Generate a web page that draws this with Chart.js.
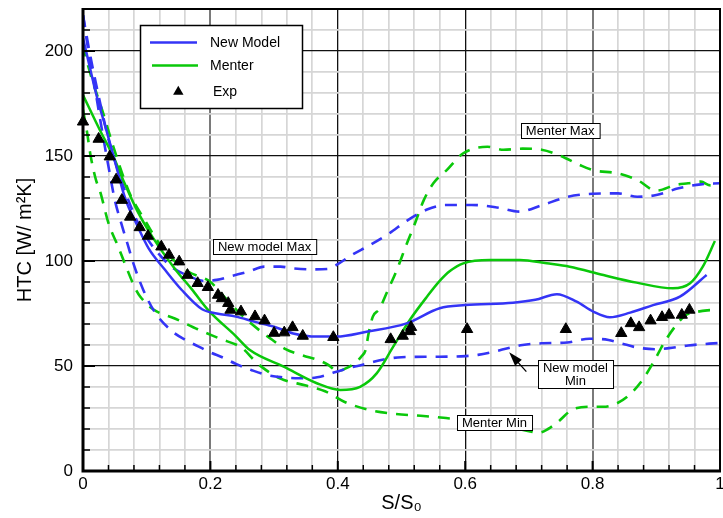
<!DOCTYPE html>
<html>
<head>
<meta charset="utf-8">
<title>HTC along S/S0</title>
<script src="https://cdn.jsdelivr.net/npm/chart.js@4.4.1/dist/chart.umd.min.js"></script>
<style>
  html, body { margin: 0; padding: 0; background: #fff; }
  #wrap { width: 723px; height: 518px; }
</style>
</head>
<body>
<div id="wrap"><canvas id="htcChart" width="723" height="518"></canvas></div>
<script>
// heat transfer coefficient along the surface, S/S0 vs HTC
const newModelS = [0, 0.005, 0.022, 0.037, 0.051, 0.066, 0.085, 0.103, 0.129, 0.155, 0.187, 0.21, 0.24, 0.27, 0.3, 0.33, 0.367, 0.398, 0.445, 0.508, 0.56, 0.6, 0.675, 0.71, 0.744, 0.775, 0.801, 0.827, 0.859, 0.895, 0.937, 0.979];
const newModelHtc = [206, 199.7, 178, 162, 146.5, 130, 117, 106, 95.7, 86.2, 77, 75, 73.5, 71, 68.7, 65.5, 64, 64, 66.3, 70.3, 77.5, 79, 80.1, 81.5, 84.2, 80.6, 75.9, 73.2, 75.4, 79, 83, 93.3];

const menterS = [0, 0.027, 0.048, 0.063, 0.085, 0.11, 0.145, 0.171, 0.197, 0.239, 0.262, 0.315, 0.367, 0.404, 0.435, 0.461, 0.487, 0.513, 0.54, 0.56, 0.576, 0.597, 0.639, 0.686, 0.728, 0.764, 0.817, 0.869, 0.926, 0.953, 0.973, 0.992];
const menterHtc = [179, 162, 149.5, 138.6, 124, 111, 96, 86.5, 76.5, 64.5, 57.6, 49.7, 41.8, 38.6, 40.1, 46.5, 59.2, 71.9, 83, 90.5, 95.2, 98.9, 100.5, 100.5, 98.9, 97.3, 93.3, 89.7, 87, 89.4, 97.3, 109.5];

const newMaxS = [0, 0.01, 0.02, 0.03, 0.04, 0.055, 0.07, 0.085, 0.1, 0.12, 0.14, 0.165, 0.19, 0.21, 0.235, 0.26, 0.285, 0.31, 0.33, 0.36, 0.385, 0.4, 0.42, 0.45, 0.48, 0.51, 0.54, 0.57, 0.61, 0.65, 0.685, 0.72, 0.76, 0.8, 0.84, 0.87, 0.9, 0.935, 0.97, 1];
const newMaxHtc = [217, 200, 185, 171, 158, 143, 130, 119, 111, 103, 97, 93, 90.5, 91, 93, 95, 97.3, 97.3, 96.5, 96, 96.2, 98.5, 102.5, 107.5, 113, 119.5, 124.5, 126.7, 126.7, 125.5, 123.5, 126.5, 130.5, 132, 132.2, 130.6, 131.4, 134.6, 136.5, 137];

const newMinS = [0, 0.01, 0.02, 0.03, 0.04, 0.05, 0.06, 0.07, 0.08, 0.095, 0.112, 0.138, 0.16, 0.18, 0.2, 0.22, 0.24, 0.265, 0.285, 0.31, 0.34, 0.36, 0.38, 0.395, 0.42, 0.45, 0.47, 0.5, 0.55, 0.6, 0.62, 0.645, 0.67, 0.69, 0.72, 0.76, 0.795, 0.825, 0.845, 0.87, 0.9, 0.92, 0.95, 1];
const newMinHtc = [217, 197, 180, 162, 145, 129, 118, 108, 98, 86, 76, 67, 62.5, 59.5, 56.5, 54, 51, 48, 46, 44.7, 44.2, 44.3, 45.5, 47, 49.2, 51.5, 53, 54.2, 54.4, 54.7, 55.3, 56.8, 58.7, 60, 60.8, 61.2, 63, 62.4, 60.8, 58.8, 58, 58.5, 59.8, 61];

const menterMaxS = [0, 0.008, 0.02, 0.03, 0.045, 0.06, 0.075, 0.097, 0.117, 0.142, 0.165, 0.2, 0.223, 0.25, 0.277, 0.297, 0.318, 0.345, 0.372, 0.385, 0.4, 0.41, 0.425, 0.437, 0.444, 0.448, 0.455, 0.465, 0.477, 0.493, 0.508, 0.52, 0.535, 0.55, 0.571, 0.597, 0.635, 0.66, 0.69, 0.72, 0.75, 0.78, 0.8, 0.84, 0.87, 0.9, 0.93, 0.95, 0.97, 0.985, 1];
const menterMaxHtc = [203, 193, 181, 172, 157, 143, 131, 119.5, 109.5, 100.5, 95, 90, 82.5, 74, 67, 62.5, 58, 55, 52.5, 50.5, 47.5, 48.5, 51, 54.5, 58, 65, 73.5, 77, 85, 96, 108, 117, 129, 137, 143.3, 151.3, 154.4, 153, 153.5, 153, 150, 145.7, 143.3, 141.7, 138.6, 133.5, 136.2, 137, 137.8, 136, 137];

const menterMinS = [0, 0.006, 0.012, 0.02, 0.027, 0.04, 0.055, 0.068, 0.082, 0.09, 0.11, 0.145, 0.18, 0.215, 0.25, 0.268, 0.28, 0.31, 0.35, 0.38, 0.41, 0.45, 0.49, 0.53, 0.57, 0.62, 0.67, 0.7, 0.715, 0.73, 0.746, 0.77, 0.8, 0.817, 0.838, 0.855, 0.875, 0.895, 0.912, 0.93, 0.945, 0.96, 0.98, 1];
const menterMinHtc = [172, 162, 150, 139, 133, 118, 107, 97, 87, 83, 77, 72.5, 67.5, 63, 58.5, 53, 49.7, 44, 40.7, 38, 33, 29, 27.2, 26.3, 25.2, 23.5, 21, 19, 18.2, 20, 23.5, 29.5, 30.6, 30.6, 32.2, 35.5, 42, 51.5, 61, 69, 74, 75.5, 76.5, 76.7];

const expS = [0.0, 0.0245, 0.042, 0.052, 0.061, 0.074, 0.089, 0.102, 0.123, 0.135, 0.151, 0.164, 0.18, 0.196, 0.212, 0.218, 0.228, 0.2315, 0.248, 0.27, 0.285, 0.3, 0.316, 0.329, 0.345, 0.393, 0.483, 0.502, 0.513, 0.515, 0.603, 0.758, 0.845, 0.86, 0.873, 0.891, 0.909, 0.92, 0.94, 0.952];
const expHtc = [166.3, 158.1, 149.7, 138.7, 129.0, 121.0, 116.0, 111.9, 106.8, 102.9, 99.7, 93.3, 89.4, 87.5, 83.8, 82.2, 79.9, 76.7, 75.9, 73.6, 71.6, 65.7, 65.9, 68.4, 64.3, 63.7, 62.7, 64.3, 66.5, 68.5, 67.5, 67.5, 65.6, 70.3, 68.4, 71.6, 73.2, 74.3, 74.3, 76.7];

const xTickLabels = ['0', '0.2', '0.4', '0.6', '0.8', '1'];
const yTickLabels = ['0', '50', '100', '150', '200'];

const BLUE = 'rgb(52,52,246)';
const GREEN = 'rgb(10,200,10)';
const FONT = '"Liberation Sans", Arial, sans-serif';
const TICK_FONT = 17;

function pts(xs, ys) {
  return xs.map((x, i) => ({ x: x, y: ys[i] }));
}

function isMajorX(v) { return Math.abs(v * 5 - Math.round(v * 5)) < 1e-6; }
function isMajorY(v) { return Math.abs(v / 50 - Math.round(v / 50)) < 1e-6; }

// no extra room for the edge tick labels, the plot fills the frame
function noScalePadding(scale) {
  scale.paddingLeft = 0;
  scale.paddingRight = 0;
  scale.paddingTop = 0;
  scale.paddingBottom = 0;
}

// text boxes placed in data units (center of box)
const notes = [
  { lines: ['New model Max'], s: 0.285, v: 107.1 },
  { lines: ['Menter Max'], s: 0.749, v: 162 },
  { lines: ['New model', 'Min'], s: 0.773, v: 46.3 },
  { lines: ['Menter Min'], s: 0.646, v: 22.9 }
];

const framePlugin = {
  id: 'frame',
  afterDatasetsDraw(chart) {
    const { ctx, chartArea: a, scales } = chart;
    ctx.save();
    ctx.strokeStyle = '#000';
    ctx.lineCap = 'butt';

    // inward tick marks on left and bottom
    scales.y.ticks.forEach(t => {
      const y = scales.y.getPixelForValue(t.value);
      const major = isMajorY(t.value);
      ctx.lineWidth = major ? 2 : 1.5;
      ctx.beginPath();
      ctx.moveTo(a.left, y);
      ctx.lineTo(a.left + (major ? 12 : 7), y);
      ctx.stroke();
    });
    scales.x.ticks.forEach(t => {
      const x = scales.x.getPixelForValue(t.value);
      const major = isMajorX(t.value);
      ctx.lineWidth = major ? 2 : 1.5;
      ctx.beginPath();
      ctx.moveTo(x, a.bottom);
      ctx.lineTo(x, a.bottom - (major ? 10 : 6));
      ctx.stroke();
    });

    // frame
    ctx.lineWidth = 2;
    ctx.beginPath();
    ctx.moveTo(a.left, a.top);
    ctx.lineTo(a.right, a.top);
    ctx.lineTo(a.right, a.bottom);
    ctx.stroke();
    ctx.lineWidth = 3;
    ctx.beginPath();
    ctx.moveTo(a.left, a.top - 1);
    ctx.lineTo(a.left, a.bottom);
    ctx.lineTo(a.right + 1, a.bottom);
    ctx.stroke();
    ctx.restore();
  },
  afterDraw(chart) {
    const { ctx, scales } = chart;
    ctx.save();

    // labelled boxes
    ctx.font = '13px ' + FONT;
    ctx.textAlign = 'center';
    ctx.textBaseline = 'middle';
    notes.forEach(n => {
      const cx = scales.x.getPixelForValue(n.s);
      const cy = scales.y.getPixelForValue(n.v);
      const w = Math.max(...n.lines.map(l => ctx.measureText(l).width)) + 10;
      const lh = 13;
      const h = n.lines.length * lh + 2;
      const x0 = Math.round(cx - w / 2) + 0.5;
      const y0 = Math.round(cy - h / 2) + 0.5;
      ctx.fillStyle = '#fff';
      ctx.fillRect(x0, y0, w, h);
      ctx.strokeStyle = '#000';
      ctx.lineWidth = 1;
      ctx.strokeRect(x0, y0, w, h);
      ctx.fillStyle = '#000';
      n.lines.forEach((l, i) => {
        ctx.fillText(l, cx, y0 + 1 + lh / 2 + i * lh + 0.5);
      });
    });

    // arrow to the lower blue dashed curve
    const ax0 = scales.x.getPixelForValue(0.696), ay0 = scales.y.getPixelForValue(47.3);
    const ax1 = scales.x.getPixelForValue(0.669), ay1 = scales.y.getPixelForValue(56.5);
    const ang = Math.atan2(ay1 - ay0, ax1 - ax0);
    ctx.strokeStyle = '#000';
    ctx.lineWidth = 1.3;
    ctx.beginPath();
    ctx.moveTo(ax0, ay0);
    ctx.lineTo(ax1 - Math.cos(ang) * 8, ay1 - Math.sin(ang) * 8);
    ctx.stroke();
    ctx.fillStyle = '#000';
    ctx.beginPath();
    ctx.moveTo(ax1, ay1);
    ctx.lineTo(ax1 - Math.cos(ang) * 14 - Math.sin(ang) * 4.5, ay1 - Math.sin(ang) * 14 + Math.cos(ang) * 4.5);
    ctx.lineTo(ax1 - Math.cos(ang) * 14 + Math.sin(ang) * 4.5, ay1 - Math.sin(ang) * 14 - Math.cos(ang) * 4.5);
    ctx.closePath();
    ctx.fill();

    // legend box
    ctx.fillStyle = '#fff';
    ctx.fillRect(140.5, 25.5, 162, 83);
    ctx.strokeStyle = '#000';
    ctx.lineWidth = 1.5;
    ctx.strokeRect(140.5, 25.5, 162, 83);
    ctx.lineWidth = 2.5;
    ctx.strokeStyle = BLUE;
    ctx.beginPath(); ctx.moveTo(150, 42.5); ctx.lineTo(197, 42.5); ctx.stroke();
    ctx.strokeStyle = GREEN;
    ctx.beginPath(); ctx.moveTo(152, 65.5); ctx.lineTo(198, 65.5); ctx.stroke();
    ctx.fillStyle = '#000';
    const tx = 178.3, ty = 91.7, r = 6;
    ctx.beginPath();
    ctx.moveTo(tx, ty - r);
    ctx.lineTo(tx + r * 0.866, ty + r * 0.5);
    ctx.lineTo(tx - r * 0.866, ty + r * 0.5);
    ctx.closePath();
    ctx.fill();
    ctx.font = '14px ' + FONT;
    ctx.textAlign = 'left';
    ctx.fillText(chart.data.datasets[0].label, 210, 43.5);
    ctx.fillText(chart.data.datasets[1].label, 210, 66.5);
    ctx.fillText(chart.data.datasets[2].label, 213, 92.5);
    ctx.restore();
  }
};

const lineBase = {
  pointRadius: 0,
  pointHoverRadius: 0,
  fill: false,
  cubicInterpolationMode: 'monotone',
  order: 1
};

new Chart(document.getElementById('htcChart'), {
  type: 'line',
  data: {
    datasets: [
      Object.assign({}, lineBase, { label: 'New Model', data: pts(newModelS, newModelHtc), borderColor: BLUE, borderWidth: 2.5 }),
      Object.assign({}, lineBase, { label: 'Menter', data: pts(menterS, menterHtc), borderColor: GREEN, borderWidth: 2.5 }),
      {
        label: 'Exp',
        type: 'scatter',
        data: pts(expS, expHtc),
        showLine: false,
        pointStyle: 'triangle',
        pointRadius: 6.5,
        pointHoverRadius: 6.5,
        backgroundColor: '#000',
        borderColor: '#000',
        borderWidth: 1,
        clip: false,
        order: 0
      },
      Object.assign({}, lineBase, { label: 'New model Max', data: pts(newMaxS, newMaxHtc), borderColor: BLUE, borderWidth: 2.6, borderDash: [12, 9] }),
      Object.assign({}, lineBase, { label: 'New model Min', data: pts(newMinS, newMinHtc), borderColor: BLUE, borderWidth: 2.6, borderDash: [12, 9] }),
      Object.assign({}, lineBase, { label: 'Menter Max', data: pts(menterMaxS, menterMaxHtc), borderColor: GREEN, borderWidth: 2.6, borderDash: [12, 9] }),
      Object.assign({}, lineBase, { label: 'Menter Min', data: pts(menterMinS, menterMinHtc), borderColor: GREEN, borderWidth: 2.6, borderDash: [12, 9] })
    ]
  },
  options: {
    responsive: false,
    animation: false,
    events: [],
    layout: { autoPadding: false, padding: { left: 0, top: 9, right: 3, bottom: 0 } },
    plugins: {
      legend: { display: false },
      tooltip: { enabled: false }
    },
    scales: {
      x: {
        type: 'linear',
        min: 0,
        max: 1,
        afterFit(scale) { scale.height = 47; noScalePadding(scale); },
        border: { display: false },
        grid: {
          drawTicks: false,
          color(c) {
            const v = c.tick.value;
            if (!isMajorX(v)) return '#d6d6d6';
            return (Math.abs(v - 0.2) < 1e-6 || Math.abs(v - 0.8) < 1e-6) ? '#7a7a7a' : '#111';
          },
          lineWidth(c) {
            const v = c.tick.value;
            if (!isMajorX(v)) return 1.7;
            return (Math.abs(v - 0.2) < 1e-6 || Math.abs(v - 0.8) < 1e-6) ? 2 : 1.3;
          }
        },
        ticks: {
          stepSize: 0.04,
          autoSkip: false,
          maxRotation: 0,
          padding: 3,
          color: '#000',
          font: { family: FONT, size: TICK_FONT },
          callback(v) { return isMajorX(v) ? xTickLabels[Math.round(v * 5)] : ''; }
        },
        title: {
          display: true,
          text: 'S/S\u2080',
          color: '#000',
          font: { family: FONT, size: 20 },
          padding: { top: 0, bottom: 3 }
        }
      },
      y: {
        type: 'linear',
        min: 0,
        max: 220,
        afterFit(scale) { scale.width = 83; noScalePadding(scale); },
        border: { display: false },
        grid: {
          drawTicks: false,
          color(c) { return isMajorY(c.tick.value) ? '#111' : '#d6d6d6'; },
          lineWidth(c) { return isMajorY(c.tick.value) ? 1.3 : 1.7; }
        },
        ticks: {
          stepSize: 10,
          autoSkip: false,
          padding: 10,
          color: '#000',
          font: { family: FONT, size: TICK_FONT },
          callback(v) { return isMajorY(v) ? yTickLabels[Math.round(v / 50)] : ''; }
        },
        title: {
          display: true,
          text: 'HTC [W/ m\u00b2K]',
          color: '#000',
          font: { family: FONT, size: 20 },
          padding: { top: 13, bottom: 0 }
        }
      }
    }
  },
  plugins: [framePlugin]
});
</script>
</body>
</html>
